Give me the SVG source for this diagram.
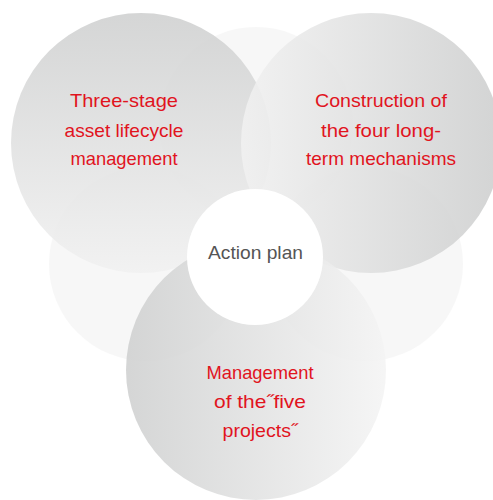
<svg xmlns="http://www.w3.org/2000/svg" width="493" height="500" viewBox="0 0 493 500">
<defs>
<linearGradient id="gTL" x1="0" y1="0" x2="0" y2="1"><stop offset="0" stop-color="#cfd0d0"/><stop offset="1" stop-color="#f1f1f1"/></linearGradient>
<linearGradient id="gTR" x1="0" y1="0" x2="1" y2="0"><stop offset="0" stop-color="#f1f1f1"/><stop offset="1" stop-color="#cdcece"/></linearGradient>
<linearGradient id="gB" x1="0" y1="0" x2="1" y2="0"><stop offset="0" stop-color="#cfd0d0"/><stop offset="1" stop-color="#f4f4f4"/></linearGradient>
</defs>
<style>
.faint{fill:#efefef;opacity:0.5}
.big{opacity:0.88}
.lbl{font-family:"Liberation Sans",Arial,sans-serif;font-size:19px;fill:#e1141e;text-anchor:middle}
.ctr{font-family:"Liberation Sans",Arial,sans-serif;font-size:19px;fill:#555555;text-anchor:middle}
</style>
<rect width="493" height="500" fill="#ffffff"/>
<g id="decor">
<circle class="faint" cx="256" cy="124" r="97"/>
<circle class="faint" cx="146" cy="264" r="97"/>
<circle class="faint" cx="366" cy="264" r="97"/>
</g>
<g id="node-lifecycle">
<circle class="big" cx="141" cy="143" r="130" fill="url(#gTL)"/>
<text class="lbl" x="124" y="107" textLength="108" lengthAdjust="spacingAndGlyphs">Three-stage</text>
<text class="lbl" x="124" y="137" textLength="119" lengthAdjust="spacingAndGlyphs">asset lifecycle</text>
<text class="lbl" x="124" y="165" textLength="107" lengthAdjust="spacingAndGlyphs">management</text>
</g>
<g id="node-mechanisms">
<circle class="big" cx="371" cy="143" r="130" fill="url(#gTR)"/>
<text class="lbl" x="381" y="107" textLength="132" lengthAdjust="spacingAndGlyphs">Construction of</text>
<text class="lbl" x="381" y="137" textLength="120" lengthAdjust="spacingAndGlyphs">the four long-</text>
<text class="lbl" x="381" y="165" textLength="150" lengthAdjust="spacingAndGlyphs">term mechanisms</text>
</g>
<g id="node-projects">
<circle class="big" cx="256" cy="370" r="130" fill="url(#gB)"/>
<text class="lbl" x="260" y="379" textLength="107" lengthAdjust="spacingAndGlyphs">Management</text>
<text class="lbl" x="260" y="408" textLength="92" lengthAdjust="spacingAndGlyphs">of the˝five</text>
<text class="lbl" x="260" y="437" textLength="75" lengthAdjust="spacingAndGlyphs">projects˝</text>
</g>
<g id="node-action">
<circle cx="255" cy="257" r="68" fill="#ffffff"/>
<text class="ctr" x="255.5" y="259" textLength="95" lengthAdjust="spacingAndGlyphs">Action plan</text>
</g>
<g id="connectors"></g>
</svg>
